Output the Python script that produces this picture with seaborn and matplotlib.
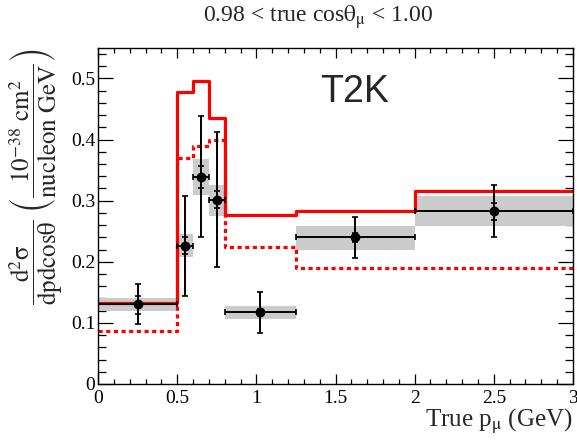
import numpy as np
import matplotlib
matplotlib.use("Agg")
import matplotlib.pyplot as plt
import seaborn as sns
import pandas as pd

# Bin edges in true muon momentum (GeV)
bin_edges = [0.0, 0.5, 0.6, 0.7, 0.8, 1.25, 2.0, 3.0]

# Model predictions per bin (10^-38 cm^2 / nucleon GeV)
model_solid = [0.133, 0.477, 0.495, 0.436, 0.277, 0.283, 0.316]
model_dotted = [0.087, 0.370, 0.389, 0.400, 0.224, 0.189, 0.189]

# Measured cross section per bin
data_y = [0.131, 0.226, 0.339, 0.301, 0.117, 0.240, 0.283]
# total uncertainty band (low, high)
total_lo = [0.098, 0.144, 0.240, 0.192, 0.084, 0.206, 0.241]
total_hi = [0.163, 0.307, 0.438, 0.412, 0.151, 0.273, 0.325]
# statistical uncertainty (low, high)
stat_lo = [0.115, 0.212, 0.321, 0.288, 0.112, 0.232, 0.269]
stat_hi = [0.144, 0.240, 0.357, 0.315, 0.123, 0.2475, 0.296]
# shaded systematic boxes (low, high)
box_lo = [0.120, 0.207, 0.309, 0.275, 0.107, 0.219, 0.259]
box_hi = [0.141, 0.245, 0.3675, 0.326, 0.127, 0.259, 0.308]

sns.set_theme(style="ticks")
plt.rcParams["font.family"] = ["Liberation Serif", "DejaVu Serif"]
plt.rcParams["mathtext.fontset"] = "stix"

fig = plt.figure(figsize=(5.77, 4.43), dpi=100)
ax = fig.add_axes([0.170, 0.1332, 0.823, 0.7588])

edges = np.array(bin_edges)
lefts = edges[:-1]
widths = np.diff(edges)
centers = lefts + widths / 2

# systematic boxes
ax.bar(lefts, np.array(box_hi) - np.array(box_lo), width=widths,
       bottom=box_lo, align="edge", color="#cbcbcb", linewidth=0, zorder=1)

# model step curves
steps = pd.DataFrame({
    "p": np.concatenate([edges, edges]),
    "xsec": np.concatenate([model_solid + [model_solid[-1]],
                            model_dotted + [model_dotted[-1]]]),
    "model": ["solid"] * len(edges) + ["dotted"] * len(edges),
})
sns.lineplot(data=steps[steps.model == "solid"], x="p", y="xsec",
             drawstyle="steps-post", color="#ff0000", linewidth=2.3,
             ax=ax, zorder=2)
sns.lineplot(data=steps[steps.model == "dotted"], x="p", y="xsec",
             drawstyle="steps-post", color="#ff0000", linewidth=2.3,
             ax=ax, zorder=2, dashes=False)
ax.lines[-1].set_linestyle((0, (1.3, 1.1)))

y = np.array(data_y)
# total errors with horizontal bin-width bars
ax.errorbar(centers, y, xerr=widths / 2,
            yerr=[y - np.array(total_lo), np.array(total_hi) - y],
            fmt="none", ecolor="black", elinewidth=1.4, capsize=2.2,
            capthick=1.2, zorder=3)
# statistical error ticks
ax.errorbar(centers, y,
            yerr=[y - np.array(stat_lo), np.array(stat_hi) - y],
            fmt="none", ecolor="black", elinewidth=1.4, capsize=2.2,
            capthick=1.2, zorder=3)
sns.scatterplot(x=centers, y=y, color="black", s=50, edgecolor="black",
                linewidth=0, ax=ax, zorder=4)

ax.set_xlim(0, 3)
ax.set_ylim(0, 0.55)
ax.set_xticks([0, 0.5, 1, 1.5, 2, 2.5, 3])
ax.set_xticklabels(["0", "0.5", "1", "1.5", "2", "2.5", "3"])
ax.set_yticks([0, 0.1, 0.2, 0.3, 0.4, 0.5])
ax.set_yticklabels(["0", "0.1", "0.2", "0.3", "0.4", "0.5"])
ax.xaxis.set_minor_locator(matplotlib.ticker.MultipleLocator(0.1))
ax.yaxis.set_minor_locator(matplotlib.ticker.MultipleLocator(0.02))
ax.tick_params(which="both", direction="in", top=True, right=True,
               colors="black", labelsize=14, width=0.9, pad=4)
ax.tick_params(axis="y", pad=2)
ax.tick_params(axis="x", which="major", length=7)
ax.tick_params(axis="x", which="minor", length=3.6)
ax.tick_params(axis="y", which="major", length=10.5)
ax.tick_params(axis="y", which="minor", length=5.5)
for s in ax.spines.values():
    s.set_linewidth(1.0)
    s.set_color("black")

ax.set_xlabel(r"True p$_{\mathrm{\mu}}$ (GeV)", fontsize=18, loc="right",
              labelpad=0)
ax.set_ylabel(r"$\dfrac{\mathrm{d}^{2}\mathrm{\sigma}}{\mathrm{dpdcos}\mathrm{\theta}}\ "
              r"\left(\dfrac{10^{-38}\ \mathrm{cm}^{2}}{\mathrm{nucleon\ GeV}}\right)$",
              fontsize=18, loc="top", labelpad=4)

fig.text(318 / 577, 1 - 17 / 443,
         r"0.98 < true cos$\mathrm{\theta}_{\mathrm{\mu}}$ < 1.00",
         ha="center", va="center", fontsize=17)
ax.text(0.541, 0.868, "T2K", transform=ax.transAxes,
        fontsize=27, family="Liberation Sans", ha="center", va="center")

ax.set_facecolor("white")
fig.patch.set_facecolor("white")
fig.savefig("out.png", dpi=100, facecolor="white")
